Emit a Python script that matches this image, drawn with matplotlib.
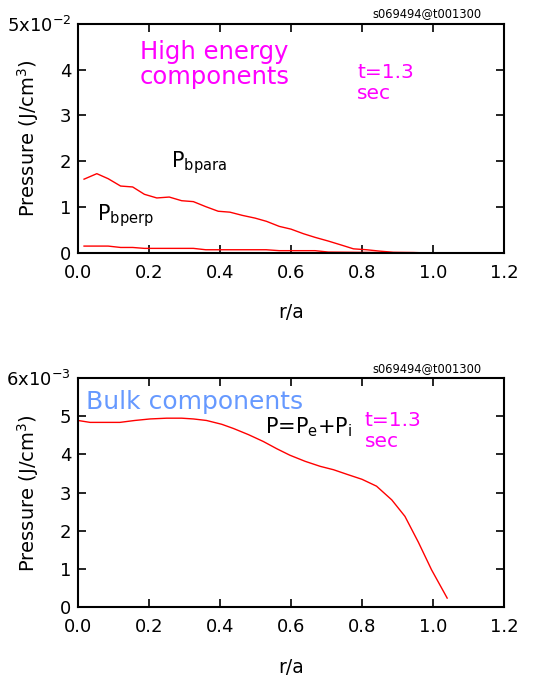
import matplotlib
matplotlib.use('Agg')
import matplotlib.pyplot as plt

plt.rcParams['font.family'] = ['DejaVu Sans']
plt.rcParams['mathtext.default'] = 'regular'

# High energy components (units of 1e-2 J/cm^3)
r_para = [0.017, 0.053, 0.085, 0.12, 0.154, 0.187, 0.222, 0.257, 0.292, 0.325,
          0.36, 0.395, 0.428, 0.463, 0.499, 0.531, 0.567, 0.6, 0.635, 0.668,
          0.705, 0.743, 0.776, 0.813, 0.85, 0.888, 0.945, 0.984]
p_bpara = [1.61, 1.73, 1.62, 1.46, 1.44, 1.28, 1.20, 1.22, 1.14, 1.12,
           1.01, 0.91, 0.89, 0.82, 0.76, 0.69, 0.58, 0.52, 0.42, 0.34,
           0.26, 0.17, 0.09, 0.07, 0.04, 0.015, 0.01, 0.0]
r_perp = [0.017, 0.085, 0.12, 0.154, 0.187, 0.26, 0.325, 0.36, 0.53, 0.567,
          0.668, 0.705, 0.984]
p_bperp = [0.15, 0.15, 0.12, 0.12, 0.10, 0.10, 0.10, 0.07, 0.07, 0.05,
           0.05, 0.02, 0.0]

# Bulk components (units of 1e-3 J/cm^3)
r_bulk = [0.0, 0.034, 0.118, 0.16, 0.203, 0.25, 0.292, 0.325, 0.362, 0.405,
          0.438, 0.48, 0.522, 0.56, 0.597, 0.64, 0.682, 0.72, 0.761, 0.8,
          0.841, 0.884, 0.921, 0.959, 0.996, 1.04]
p_bulk = [4.89, 4.84, 4.84, 4.89, 4.93, 4.95, 4.95, 4.93, 4.89, 4.79,
          4.68, 4.52, 4.34, 4.15, 3.98, 3.82, 3.69, 3.60, 3.47, 3.35,
          3.17, 2.81, 2.38, 1.70, 0.98, 0.24]

x_ticks = [0.0, 0.2, 0.4, 0.6, 0.8, 1.0, 1.2]
x_labels = ['0.0', '0.2', '0.4', '0.6', '0.8', '1.0', '1.2']
top_yticks = [0, 1, 2, 3, 4, 5]
top_ylabels = ['0', '1', '2', '3', '4', '5x10$^{-2}$']
bot_yticks = [0, 1, 2, 3, 4, 5, 6]
bot_ylabels = ['0', '1', '2', '3', '4', '5', '6x10$^{-3}$']

fig = plt.figure(figsize=(5.44, 6.8), dpi=100)
ax1 = fig.add_axes([0.1434, 0.628, 0.783, 0.337])
ax2 = fig.add_axes([0.1434, 0.107, 0.783, 0.337])


def style(ax, yticks, ylabels, ymax):
    ax.set_xlim(0, 1.2)
    ax.set_ylim(0, ymax)
    ax.set_xticks(x_ticks)
    ax.set_xticklabels(x_labels)
    ax.set_yticks(yticks)
    ax.set_yticklabels(ylabels)
    ax.tick_params(direction='in', length=6, width=1.2, labelsize=13,
                   top=True, right=True)
    ax.tick_params(axis='x', pad=8)
    ax.tick_params(axis='y', pad=5)
    for s in ax.spines.values():
        s.set_linewidth(1.5)
    ax.set_xlabel('r/a', fontsize=13.5, va='center')
    ax.xaxis.set_label_coords(0.5, -0.262)
    ax.set_ylabel('Pressure (J/cm$^3$)', fontsize=14, va='center')
    ax.yaxis.set_label_coords(-0.117, 0.5)
    ax.text(0.948, 1.015, 's069494@t001300', transform=ax.transAxes,
            ha='right', va='bottom', fontsize=8.3)


# ===== Top panel =====
ax1.plot(r_para, p_bpara, color='#FF0000', lw=1.0)
ax1.plot(r_perp, p_bperp, color='#FF0000', lw=1.0)
style(ax1, top_yticks, top_ylabels, 5)
ax1.text(0.1455, 0.821, 'High energy\ncomponents', transform=ax1.transAxes,
         color='#FF00FF', fontsize=17.5, va='center', ha='left', linespacing=1.05)
ax1.text(0.655, 0.742, 't=1.3\nsec', transform=ax1.transAxes,
         color='#FF00FF', fontsize=14.5, va='center', ha='left', linespacing=1.1)
ax1.text(0.262, 1.86, '$P_{bpara}$', fontsize=15, va='baseline', ha='left')
ax1.text(0.054, 0.70, '$P_{bperp}$', fontsize=15, va='baseline', ha='left')

# ===== Bottom panel =====
ax2.plot(r_bulk, p_bulk, color='#FF0000', lw=1.0)
style(ax2, bot_yticks, bot_ylabels, 6)
ax2.text(0.0225, 5.19, 'Bulk components', color='#6699FF', fontsize=18,
         va='baseline', ha='left')
ax2.text(0.527, 4.56, '$P$=$P_e$+$P_i$', fontsize=15, va='baseline', ha='left')
ax2.text(0.808, 4.62, 't=1.3\nsec', color='#FF00FF', fontsize=14.5,
         va='center', ha='left', linespacing=1.1)

plt.savefig('out.png', dpi=100)
